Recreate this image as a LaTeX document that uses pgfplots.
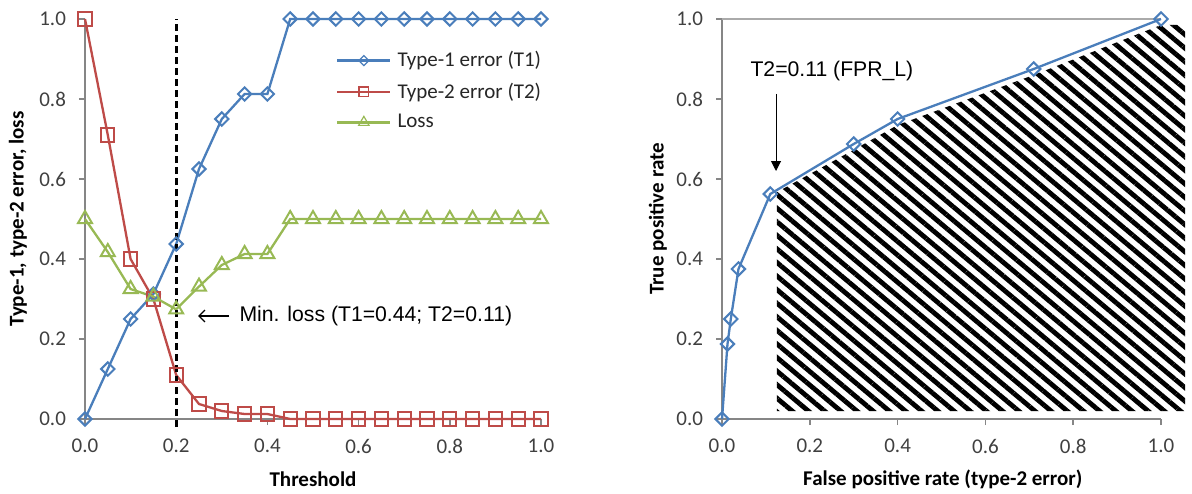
\documentclass[border=0pt]{standalone}
\usepackage{fontspec}
\setmainfont{Carlito}
\newfontfamily\arialfont{Liberation Sans}
\usepackage{pgfplots}
\pgfplotsset{compat=1.18}
\usetikzlibrary{patterns.meta,arrows.meta}

\definecolor{cBlue}{HTML}{4A7EBB}
\definecolor{cRed}{HTML}{BE4B48}
\definecolor{cGreen}{HTML}{98B954}
\definecolor{cAxis}{HTML}{868686}
\definecolor{cTick}{HTML}{404040}

\pgfplotsset{
  myaxis/.style={
    scale only axis, height=200pt, anchor=south west,
    xmin=0, xmax=1, ymin=0, ymax=1,
    xtick={0,0.2,0.4,0.6,0.8,1}, ytick={0,0.2,0.4,0.6,0.8,1},
    tick align=outside, major tick length=3pt,
    every tick/.style={cAxis, line width=0.8pt},
    axis line style={cAxis, line width=0.8pt},
    ticklabel style={font=\fontsize{10.5}{12}\selectfont, text=cTick},
    /pgf/number format/fixed, /pgf/number format/fixed zerofill,
    /pgf/number format/precision=1, /pgf/number format/assume math mode=true,
    xticklabel shift=3.5pt, yticklabel shift=3pt,
    label style={font=\fontsize{10.5}{12}\selectfont\bfseries, text=black},
    clip=false,
  }
}

\begin{document}
\begin{tikzpicture}
\useasboundingbox (0,0) rectangle (596pt,246.5pt);

% ---------------- Left chart ----------------
\begin{axis}[myaxis, at={(42.5pt,37pt)}, width=228pt,
  axis x line*=bottom, axis y line*=left,
  xlabel={Threshold}, ylabel={Type-1, type-2 error, loss},
  xlabel style={at={(axis description cs:0.5,-0.15)}, anchor=center},
  ylabel style={at={(axis description cs:-0.147,0.5)}, anchor=center},
  legend style={at={(axis description cs:0.55,0.93)}, anchor=north west,
    draw=none, fill=none, font=\fontsize{10.5}{12}\selectfont, text=black!85,
    row sep=2.5pt, inner sep=0pt,
    nodes={inner xsep=3pt}},
  legend cell align=left,
  legend image code/.code={\draw[mark repeat=2,mark phase=2,#1,
      every mark/.append style={scale=0.75, line width=0.6pt}]
      plot coordinates {(0pt,0pt) (13.25pt,0pt) (26.5pt,0pt)};},
]
\addplot[cBlue, line width=1.15pt, mark=square, mark size=2.35pt,
  mark options={rotate=45, solid, line width=1pt, fill=none}] coordinates {
 (0,0) (0.05,0.125) (0.1,0.25) (0.15,0.3125) (0.2,0.4375) (0.25,0.625)
 (0.3,0.75) (0.35,0.8125) (0.4,0.8125) (0.45,1) (0.5,1) (0.55,1) (0.6,1)
 (0.65,1) (0.7,1) (0.75,1) (0.8,1) (0.85,1) (0.9,1) (0.95,1) (1,1)};
\addlegendentry{Type-1 error (T1)}
\addplot[cRed, line width=1.15pt, mark=square, mark size=3.3pt,
  mark options={solid, line width=1pt, fill=none}] coordinates {
 (0,1) (0.05,0.71) (0.1,0.40) (0.15,0.30) (0.2,0.11) (0.25,0.0375)
 (0.3,0.02) (0.35,0.0125) (0.4,0.0125) (0.45,0) (0.5,0) (0.55,0) (0.6,0)
 (0.65,0) (0.7,0) (0.75,0) (0.8,0) (0.85,0) (0.9,0) (0.95,0) (1,0)};
\addlegendentry{Type-2 error (T2)}
\addplot[cGreen, line width=1.15pt, mark=triangle, mark size=4pt,
  mark options={solid, line width=1pt, fill=none}] coordinates {
 (0,0.5) (0.05,0.4175) (0.1,0.325) (0.15,0.306) (0.2,0.274) (0.25,0.331)
 (0.3,0.385) (0.35,0.4125) (0.4,0.4125) (0.45,0.5) (0.5,0.5) (0.55,0.5) (0.6,0.5)
 (0.65,0.5) (0.7,0.5) (0.75,0.5) (0.8,0.5) (0.85,0.5) (0.9,0.5) (0.95,0.5) (1,0.5)};
\addlegendentry{Loss}
\addplot[black, line width=1.35pt, dash pattern=on 3.5pt off 2pt, forget plot]
  coordinates {(0.2,-0.02) (0.2,1)};
\draw[-{Straight Barb[length=3pt,width=6pt]}, line width=0.6pt]
  (axis cs:0.316,0.2575) -- (axis cs:0.248,0.2575);
\node[anchor=west, inner sep=0pt, font=\arialfont\fontsize{10.6}{12}\selectfont]
  at (axis cs:0.338,0.2575) {Min. loss (T1=0.44; T2=0.11)};
\end{axis}

% ---------------- Right chart ----------------
\begin{axis}[myaxis, at={(361pt,37pt)}, width=219.5pt,
  axis x line*=bottom, axis y line*=left,
  xlabel={False positive rate (type-2 error)}, ylabel={True positive rate},
  xlabel style={at={(axis description cs:0.503,-0.15)}, anchor=center},
  ylabel style={at={(axis description cs:-0.146,0.5)}, anchor=center},
]
\draw[cAxis!70, line width=0.6pt] (axis cs:0,1) -- (axis cs:1,1);
\addplot[draw=none, fill=white,
  postaction={pattern={Lines[angle=-40,distance=5.2pt,line width=2.4pt]}, pattern color=black}]
  coordinates {(0.125,0.02) (0.125,0.567) (0.3,0.673) (0.4,0.735) (0.71,0.86)
  (1,0.985) (1.055,0.985) (1.055,0.02)} -- cycle;
\addplot[cBlue, line width=1.15pt, mark=square, mark size=2.35pt,
  mark options={rotate=45, solid, line width=1pt, fill=none}] coordinates {
 (0,0) (0.0125,0.1875) (0.02,0.25) (0.0375,0.375) (0.11,0.5625)
 (0.30,0.6875) (0.40,0.75) (0.71,0.875) (1,1)};
\draw[-{Triangle[length=5pt,width=5pt]}, line width=0.5pt]
  (axis cs:0.123,0.8125) -- (axis cs:0.123,0.62);
\node[anchor=west, inner sep=0pt, font=\arialfont\fontsize{10.6}{12}\selectfont]
  at (axis cs:0.064,0.87) {T2=0.11 (FPR\_L)};
\end{axis}
\end{tikzpicture}
\end{document}
